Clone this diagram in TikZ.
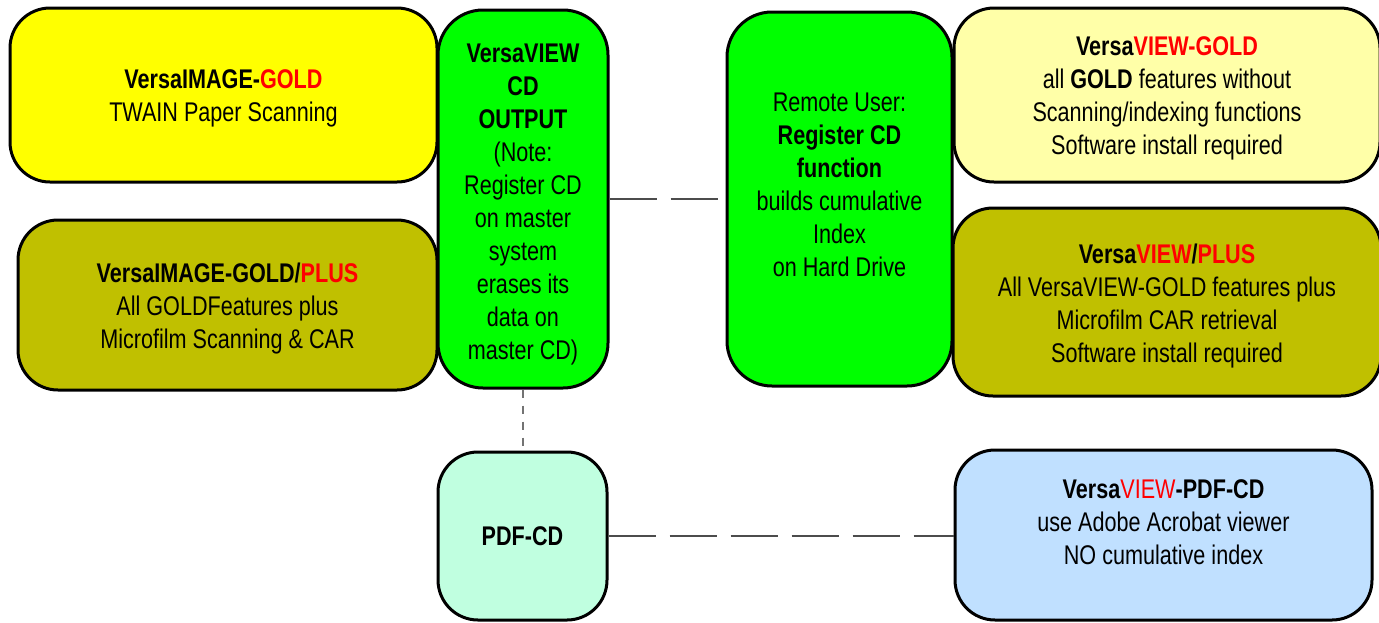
\documentclass[tikz,border=0pt]{standalone}
\usepackage{fontspec}
\setmainfont{Liberation Sans}[FakeStretch=0.8]
\usetikzlibrary{positioning}

% box colours
\definecolor{goldyellow}{HTML}{FFFF00}
\definecolor{plusolive}{HTML}{C0C000}
\definecolor{cdgreen}{HTML}{00FF00}
\definecolor{paleyellow}{HTML}{FFFFA8}
\definecolor{pdfmint}{HTML}{C0FFE0}
\definecolor{pdfblue}{HTML}{C0E0FF}

\newcommand{\rd}[1]{\textcolor{red}{#1}}

\begin{document}
\begin{tikzpicture}[x=1pt, y=-1pt,
  box/.style={draw=black, line width=3pt, rounded corners=40pt, inner sep=0pt},
  txt/.style={align=center, inner sep=0pt, font=\fontsize{27}{33}\selectfont},
  link/.style={draw=black!70, line width=1.5pt, dash pattern=on 47pt off 14pt},
  vlink/.style={draw=black!55, line width=1.5pt, dash pattern=on 8pt off 8pt}]

\useasboundingbox (0,0) rectangle (1379,622);

% Left column: imaging products
\node[box, fill=goldyellow, minimum width=427pt, minimum height=174pt] (img) at (223.5,95) {};
\node[txt] (imgtxt) at ([yshift=-3.5pt]img.center)
  {\textbf{VersaIMAGE-\rd{GOLD}}\\TWAIN Paper Scanning};
\node[box, fill=plusolive, minimum width=419pt, minimum height=170pt] (imgplus) at (227.5,305) {};
\node[txt] (imgplustxt) at ([yshift=-4pt]imgplus.center)
  {\textbf{VersaIMAGE-GOLD/\rd{PLUS}}\\All GOLDFeatures plus\\Microfilm Scanning \& CAR};

% CD output
\node[box, fill=cdgreen, minimum width=170pt, minimum height=378pt, rounded corners=45pt] (vcd) at (523,199) {};
\node[txt] (vcdtxt) at ([yshift=-5pt]vcd.center)
  {\textbf{VersaVIEW}\\\textbf{CD}\\\textbf{OUTPUT}\\(Note:\\Register CD\\on master\\system\\erases its\\data on\\master CD)};
\node[box, fill=pdfmint, minimum width=169pt, minimum height=168pt] (pdfcd) at (522.5,536) {};
\node[txt] (pdfcdtxt) at (pdfcd.center) {\textbf{PDF-CD}};

% Remote user
\node[box, fill=cdgreen, minimum width=225pt, minimum height=374pt, rounded corners=45pt] (remote) at (839.5,199) {};
\node[txt] (remotetxt) at ([yshift=14pt]remote.center)
  {Remote User:\\\textbf{Register CD}\\\textbf{function}\\builds cumulative\\Index\\on Hard Drive};

% Right column: viewer products
\node[box, fill=paleyellow, minimum width=426pt, minimum height=174pt] (vgold) at (1167,95) {};
\node[txt] (vgoldtxt) at ([yshift=-3.5pt]vgold.center)
  {\textbf{Versa\rd{VIEW-GOLD}}\\all \textbf{GOLD} features without\\Scanning/indexing functions\\Software install required};
\node[box, fill=plusolive, minimum width=428pt, minimum height=188pt] (vplus) at (1167,302) {};
\node[txt] (vplustxt) at ([yshift=-4pt]vplus.center)
  {\textbf{Versa\rd{VIEW}/\rd{PLUS}}\\All VersaVIEW-GOLD features plus\\Microfilm CAR retrieval\\Software install required};
\node[box, fill=pdfblue, minimum width=417pt, minimum height=170pt] (vpdf) at (1163.5,535) {};
\node[txt] (vpdftxt) at ([yshift=13pt]vpdf.center)
  {\textbf{Versa}\rd{VIEW}\textbf{-PDF-CD}\\use Adobe Acrobat viewer\\NO cumulative index};

% Connectors
\draw[link] (vcd.east) -- (remote.west);
\draw[vlink] (vcd.south) -- (vcd.south |- pdfcd.north);
\draw[link] (pdfcd.east) -- (pdfcd.east -| vpdf.west);

\end{tikzpicture}
\end{document}
